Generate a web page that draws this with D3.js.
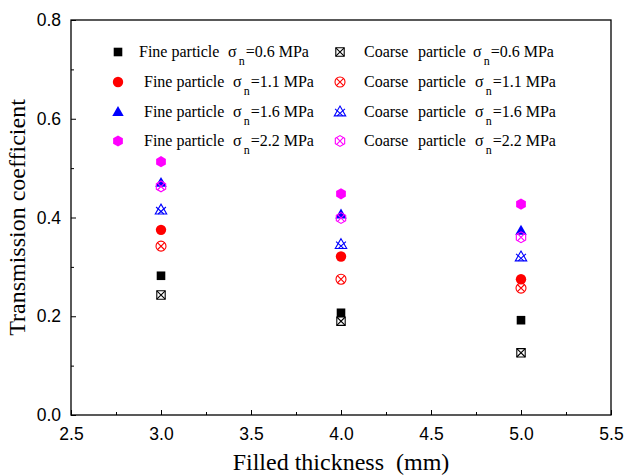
<!DOCTYPE html>
<html>
<head>
<meta charset="utf-8">
<script src="https://cdn.jsdelivr.net/npm/d3@7"></script>
<style>
  body { margin: 0; background: #fff; }
  svg { display: block; }
</style>
</head>
<body>
<svg id="chart" width="625" height="476"></svg>
<script>
// Filled thickness (mm) at which each series was measured
const thickness = [3.0, 4.0, 5.0];

// Normal stress levels, MPa
const stressLevels = ["0.6", "1.1", "1.6", "2.2"];

// Transmission coefficient, fine particle fill
const fine06 = [0.282, 0.207, 0.192];
const fine11 = [0.375, 0.321, 0.275];
const fine16 = [0.470, 0.406, 0.373];
const fine22 = [0.513, 0.448, 0.427];

// Transmission coefficient, coarse particle fill
const coarse06 = [0.243, 0.190, 0.126];
const coarse11 = [0.342, 0.275, 0.257];
const coarse16 = [0.415, 0.345, 0.320];
const coarse22 = [0.463, 0.399, 0.360];

const xTicks = [2.5, 3.0, 3.5, 4.0, 4.5, 5.0, 5.5];
const yTicks = [0.0, 0.2, 0.4, 0.6, 0.8];

const colors = ["#000000", "#ff0000", "#0000ff", "#ff00ff"];
const shapes = ["square", "circle", "triangle", "hexagon"];

const fineSeries = [fine06, fine11, fine16, fine22];
const coarseSeries = [coarse06, coarse11, coarse16, coarse22];

const svg = d3.select("#chart");
const margin = { left: 71, right: 14, top: 20, bottom: 61 };
const W = 625, H = 476;

const x = d3.scaleLinear().domain([2.5, 5.5]).range([margin.left, W - margin.right]);
const y = d3.scaleLinear().domain([0, 0.8]).range([H - margin.bottom, margin.top]);

const serif = "'Liberation Serif', 'Times New Roman', serif";
const sans = "'Liberation Sans', Arial, sans-serif";

// Frame
svg.append("rect")
  .attr("x", x(2.5)).attr("y", y(0.8))
  .attr("width", x(5.5) - x(2.5)).attr("height", y(0) - y(0.8))
  .attr("fill", "none").attr("stroke", "#000").attr("stroke-width", 1.3);

// Bottom axis: inward major and minor ticks
const xAxis = d3.axisBottom(x).tickValues(xTicks).tickFormat(d3.format(".1f"))
  .tickSizeInner(-5).tickSizeOuter(0).tickPadding(13);
const gx = svg.append("g").attr("transform", `translate(0,${y(0)})`).call(xAxis);
gx.select(".domain").remove();
gx.selectAll("text").attr("font-family", sans).attr("font-size", 17.5).attr("fill", "#000");
gx.selectAll("line").attr("stroke", "#000");
svg.append("g").attr("transform", `translate(0,${y(0)})`)
  .call(d3.axisBottom(x).tickValues(d3.range(2.75, 5.5, 0.5)).tickFormat("").tickSizeInner(-3).tickSizeOuter(0))
  .call(g => g.select(".domain").remove())
  .selectAll("line").attr("stroke", "#000");

// Left axis
const yAxis = d3.axisLeft(y).tickValues(yTicks).tickFormat(d3.format(".1f"))
  .tickSizeInner(-5).tickSizeOuter(0).tickPadding(10);
const gy = svg.append("g").attr("transform", `translate(${x(2.5)},0)`).call(yAxis);
gy.select(".domain").remove();
gy.selectAll("text").attr("font-family", sans).attr("font-size", 17.5).attr("fill", "#000");
gy.selectAll("line").attr("stroke", "#000");
svg.append("g").attr("transform", `translate(${x(2.5)},0)`)
  .call(d3.axisLeft(y).tickValues(d3.range(0.1, 0.8, 0.2)).tickFormat("").tickSizeInner(-3).tickSizeOuter(0))
  .call(g => g.select(".domain").remove())
  .selectAll("line").attr("stroke", "#000");

// Axis titles
svg.append("text")
  .attr("x", (x(2.5) + x(5.5)) / 2).attr("y", 470)
  .attr("text-anchor", "middle").attr("font-family", serif).attr("font-size", 24)
  .attr("xml:space", "preserve")
  .text("Filled thickness  (mm)");
svg.append("text")
  .attr("transform", `translate(25,${(y(0) + y(0.8)) / 2}) rotate(-90)`)
  .attr("text-anchor", "middle").attr("font-family", serif).attr("font-size", 24)
  .text("Transmission coefficient");

// Marker path generators
function shapePath(shape, s) {
  if (shape === "square") return `M${-s},${-s}H${s}V${s}H${-s}Z`;
  if (shape === "circle") { const p = d3.path(); p.arc(0, 0, s, 0, 2 * Math.PI); p.closePath(); return p.toString(); }
  if (shape === "triangle") return `M0,${-s * 1.15}L${s * 1.1},${s * 0.75}L${-s * 1.1},${s * 0.75}Z`;
  if (shape === "hexagon") {
    const pts = d3.range(6).map(i => {
      const a = Math.PI / 6 + i * Math.PI / 3;
      return [s * 1.08 * Math.cos(a), s * 1.08 * Math.sin(a)];
    });
    return "M" + pts.map(p => p.join(",")).join("L") + "Z";
  }
}
function crossPath(shape, s) {
  if (shape === "triangle") return `M${-s * 0.95},${-s * 0.6}L${s * 0.55},${s * 0.75}M${s * 0.95},${-s * 0.6}L${-s * 0.55},${s * 0.75}`;
  const k = shape === "square" ? s : s * 0.72;
  return `M${-k},${-k}L${k},${k}M${k},${-k}L${-k},${k}`;
}

const fineSize = [4.3, 5.2, 5.2, 5.2];
const coarseSize = [4.2, 5, 5.2, 5];

function drawFine(g, i) {
  g.append("path").attr("d", shapePath(shapes[i], fineSize[i])).attr("fill", colors[i]);
}
function drawCoarse(g, i) {
  g.append("path").attr("d", shapePath(shapes[i], coarseSize[i]))
    .attr("fill", "none").attr("stroke", colors[i]).attr("stroke-width", 1.1);
  g.append("path").attr("d", crossPath(shapes[i], coarseSize[i]))
    .attr("fill", "none").attr("stroke", colors[i]).attr("stroke-width", 1.1);
}

// Data points
const pts = svg.append("g");
fineSeries.forEach((vals, i) => {
  vals.forEach((v, j) => {
    const g = pts.append("g").attr("transform", `translate(${x(thickness[j])},${y(v)})`);
    drawFine(g, i);
  });
});
coarseSeries.forEach((vals, i) => {
  vals.forEach((v, j) => {
    const g = pts.append("g").attr("transform", `translate(${x(thickness[j])},${y(v)})`);
    drawCoarse(g, i);
  });
});

// Legend
const rowY = [52, 82, 112, 141];
const legend = svg.append("g").attr("font-family", serif).attr("font-size", 16);
stressLevels.forEach((s, i) => {
  const cy = rowY[i];
  drawFine(legend.append("g").attr("transform", `translate(118,${cy})`), i);
  drawCoarse(legend.append("g").attr("transform", `translate(340,${cy})`), i);

  const fx = i === 0 ? 139 : 144;
  const sx = i === 0 ? 228 : 233;
  const t1 = legend.append("text").attr("y", cy + 5);
  t1.append("tspan").attr("x", fx).text("Fine particle");
  t1.append("tspan").attr("x", sx).text("σ");
  t1.append("tspan").attr("font-size", 12).attr("dy", 8).attr("dx", 2).text("n");
  t1.append("tspan").attr("dy", -8).attr("dx", 1).text("=" + s + " MPa");

  const cx0 = 364, px0 = 418, sx2 = i === 0 ? 473 : 475;
  const t2 = legend.append("text").attr("y", cy + 5);
  t2.append("tspan").attr("x", cx0).text("Coarse");
  t2.append("tspan").attr("x", px0).text("particle");
  t2.append("tspan").attr("x", sx2).text("σ");
  t2.append("tspan").attr("font-size", 12).attr("dy", 8).attr("dx", 2).text("n");
  t2.append("tspan").attr("dy", -8).attr("dx", 1).text("=" + s + " MPa");
});
</script>
</body>
</html>
